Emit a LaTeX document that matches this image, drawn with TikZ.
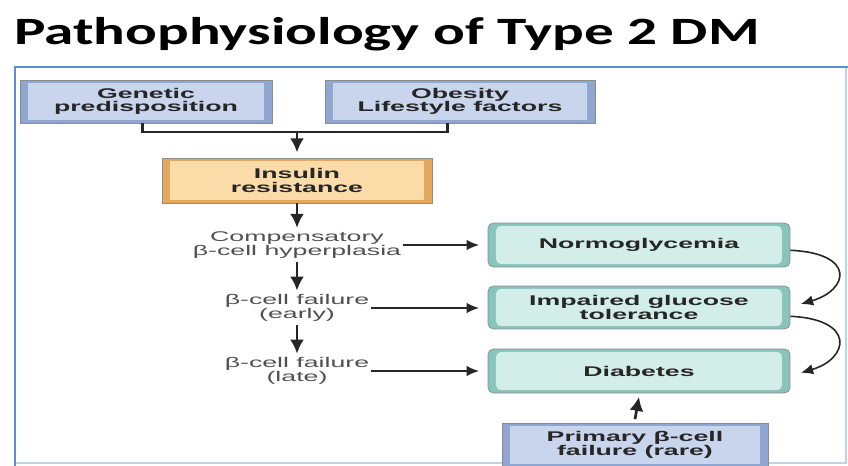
\documentclass[tikz,border=0pt]{standalone}
\usepackage{fontspec}
\setmainfont{Liberation Sans}
\newfontfamily\titlefont[FakeStretch=1.53]{Carlito}
\newfontfamily\boxfont[FakeStretch=1.9]{Liberation Sans}
\usetikzlibrary{arrows.meta}

\definecolor{frameblue}{HTML}{5B8ED6}
\definecolor{framepale}{HTML}{BCD3EE}
\definecolor{blueedge}{HTML}{8EA6D0}
\definecolor{bluein}{HTML}{C8D5EC}
\definecolor{orangeedge}{HTML}{E3A85E}
\definecolor{orangein}{HTML}{FBDBA8}
\definecolor{tealedge}{HTML}{86C4BC}
\definecolor{tealin}{HTML}{D3EDE9}
\definecolor{greytext}{HTML}{505050}

\begin{document}
\begin{tikzpicture}
  [x=0.02cm,y=-0.02cm,
   bevel/.style 2 args={draw=black!45,fill=#1,inner sep=0pt,align=center,
     font=\boxfont\bfseries\fontsize{8}{7.6}\selectfont,text=black!85,
     path picture={\fill[#2] ([xshift=4.5pt,yshift=-1.6pt]path picture bounding box.north west)
       rectangle ([xshift=-4.5pt,yshift=1.6pt]path picture bounding box.south east);}},
   bluebox/.style={bevel={blueedge}{bluein}},
   orangebox/.style={bevel={orangeedge}{orangein}},
   tealbox/.style={bevel={tealedge}{tealin},rounded corners=3pt},
   stage/.style={align=center,text=greytext,inner sep=1pt,
     font=\boxfont\fontsize{8}{7.9}\selectfont},
   arr/.style={-{Latex[length=8pt,width=8pt]},line width=1.5pt,black!85},
   harr/.style={-{Latex[length=7pt,width=6pt]},line width=0.9pt,black!85}]
  \useasboundingbox (0,0) rectangle (848,466);
  \clip (0,0) rectangle (848,466);

  % title and frame
  \node [anchor=base west,inner sep=0pt,font=\titlefont\bfseries\fontsize{22}{26}\selectfont] (title) at (14,45) {Pathophysiology of Type 2 DM};
  \draw [framepale,line width=0.8pt] (15,463) -- (846,463) -- (846,67);
  \draw [frameblue,line width=1.6pt] (15,470) -- (15,67) -- (850,67);

  % boxes
  \node [bluebox,minimum width=5.04cm,minimum height=0.86cm] (gen) at (146,101.5) {Genetic\\predisposition};
  \node [bluebox,minimum width=5.4cm,minimum height=0.86cm] (obe) at (460,101.5) {Obesity\\Lifestyle factors};
  \node [orangebox,minimum width=5.4cm,minimum height=0.9cm] (ins) at (297,180.5) {Insulin\\resistance};
  \node [tealbox,minimum width=6.04cm,minimum height=0.88cm] (norm) at (639,245) {Normoglycemia};
  \node [tealbox,minimum width=6.04cm,minimum height=0.86cm] (igt) at (639,307.5) {Impaired glucose\\tolerance};
  \node [tealbox,minimum width=6.04cm,minimum height=0.88cm] (dia) at (639,371) {Diabetes};
  \node [bluebox,minimum width=5.32cm,minimum height=0.88cm] (prim) at (635,445) {Primary β-cell\\failure (rare)};

  % stages
  \node [stage] (comp) at (297,245) {Compensatory\\β-cell hyperplasia};
  \node [stage] (early) at (297,308) {β-cell failure\\(early)};
  \node [stage] (late) at (297,371) {β-cell failure\\(late)};

  % connectors
  \coordinate (join) at (297,132);
  \draw [line width=1.5pt,black!85] ([xshift=-2pt]gen.south) |- (join) -| ([xshift=-7pt]obe.south);
  \draw [arr] (join) -- ([yshift=3pt]ins.north);
  \draw [arr] (ins.south) -- ([yshift=1pt]comp.north);
  \foreach \from/\to in {comp/early,early/late}
    \draw [arr] ([yshift=-1pt]\from.south) -- ([yshift=1pt]\to.north);
  \foreach \from/\to in {comp/norm,early/igt,late/dia}
    \draw [harr,shorten >=5pt] (\from.east) -- (\from.east -| \to.west);
  \draw [harr] ([yshift=-3pt]norm.east) .. controls +(66,3) and +(48,-14) .. ([xshift=6pt,yshift=2pt]igt.east);
  \draw [harr] ([yshift=-5pt]igt.east) .. controls +(66,3) and +(48,-14) .. ([xshift=6pt,yshift=-1pt]dia.east);
  \draw [arr] ([yshift=2pt]prim.north) -- ([yshift=-2pt]dia.south);
\end{tikzpicture}
\end{document}
